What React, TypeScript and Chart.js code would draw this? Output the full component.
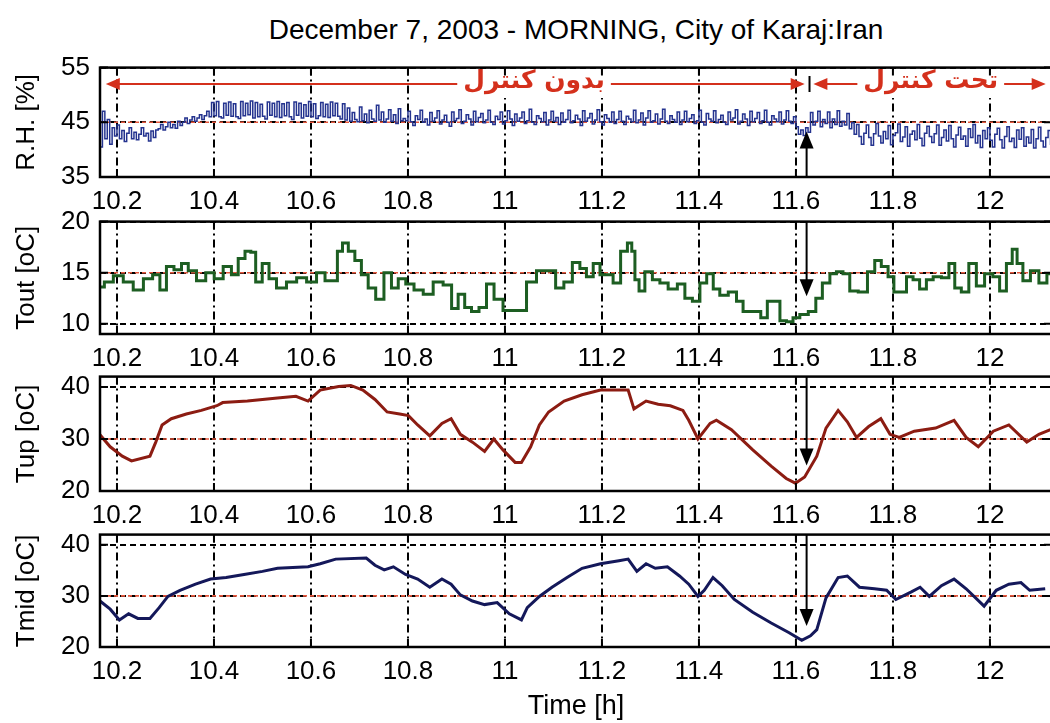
import React, { useEffect, useRef } from "react";
import { Chart, registerables } from "chart.js";

Chart.register(...registerables);

// ---------------- data ----------------
const TITLE = "December 7, 2003 - MORNING, City of Karaj:Iran";
const X_TITLE = "Time [h]";
const X_MIN = 10.165;
const X_MAX = 12.128;
const X_TICKS = [10.2, 10.4, 10.6, 10.8, 11, 11.2, 11.4, 11.6, 11.8, 12];
const X_TICK_LABELS = ["10.2", "10.4", "10.6", "10.8", "11", "11.2", "11.4", "11.6", "11.8", "12"];

// Relative humidity sampled every 0.005 h starting at 10.16 h
const RH_START = 10.16;
const RH_STEP = 0.005;
const RH_VALUES = [
  // 10.160 - 10.200
  41, 46.5, 40.5, 47, 42, 45.5, 41, 44, 42.5,
  // 10.205 - 10.285
  44.5, 42, 43.5, 41.5, 43, 44, 42, 43.2, 41.8, 42.8, 44, 42.5, 43, 41.6, 43.4, 42.2, 43.6,
  // 10.290 - 10.395
  43.8, 44.6, 43.6, 44.2, 45, 44, 44.6, 43.9, 45.2, 44.4, 45, 45.8, 44.8, 45.4, 46, 45.2, 45.8, 46.4, 45.5, 46.2, 47, 46,
  // 10.400 - 10.670
  48.6, 46.2, 48.8, 46, 45.8, 48.5, 46.3, 48.7, 46.1, 48.4, 46, 45.7, 48.8, 46.2, 48.5, 46.4, 48.9, 45.8, 48.6, 46,
  48.3, 46.1, 45.6, 48.7, 46.3, 48.5, 46, 48.8, 45.9, 48.4, 46.2, 48.6, 46, 45.5, 48.7, 46.3, 48.5, 45.8, 48.2, 46.1,
  48.8, 46, 48.4, 45.7, 46.2, 48.6, 46, 48.3, 45.9, 48.7, 46.2, 48.5, 46.1, 45.6, 48.4,
  // 10.675 - 10.795
  45.4, 47.6, 45.2, 46.8, 45.5, 45.1, 47.8, 45.3, 46.5, 44.9, 47.2, 45.6, 45.2, 48.1, 45.4, 46.9, 45, 45.6, 47.3, 45.2,
  46.4, 44.8, 47.5, 45.3, 45.7,
  // 10.800 - 11.600
  45.3, 47.0, 45.1, 44.4, 46.2, 45.5, 47.2, 45.0, 45.6, 44.5, 46.8, 45.2, 45.8, 47.1, 44.7, 45.4, 46.3, 45.0, 44.3, 46.9,
  45.3, 45.7, 47.3, 44.8, 45.2, 46.4, 45.6, 44.5, 47.0, 45.1, 45.9, 46.6, 44.9, 45.4, 47.2, 45.0, 44.6, 46.1, 45.5, 46.9,
  44.7, 45.3, 47.1, 45.6, 44.4, 46.5, 45.2, 45.8, 46.9, 44.8, 45.3, 47.4, 45.0, 44.6, 46.2, 45.7, 45.1, 46.8, 44.5, 45.4,
  47.0, 45.2, 45.9, 44.6, 46.7, 45.0, 45.5, 47.2, 44.9, 45.3, 46.3, 45.6, 44.4, 47.1, 45.2, 45.8, 46.6, 44.7, 45.4, 47.3,
  45.1, 44.5, 46.4, 45.7, 45.0, 46.9, 44.8, 45.5, 47.0, 45.2, 44.6, 46.1, 45.6, 45.1, 47.2, 44.9, 45.4, 46.7, 44.5, 45.8,
  47.1, 45.0, 45.3, 46.5, 44.7, 45.6, 47.4, 45.2, 44.8, 46.2, 45.5, 45.0, 46.9, 44.6, 45.4, 47.0, 45.1, 45.7, 46.4, 44.8,
  45.3, 47.2, 45.0, 44.5, 46.6, 45.6, 45.2, 47.1, 44.9, 45.5, 46.3, 45.0, 44.6, 46.9, 45.4, 45.8, 47.3, 44.7, 45.2, 46.5,
  45.6, 44.4, 47.0, 45.1, 45.7, 46.8, 44.8, 45.3, 47.2, 45.0, 44.5, 46.2, 45.6, 45.1, 46.9, 44.7, 45.4, 47.1, 45.2, 44.8,
  46.0,
  // 11.605 - 11.630
  44.2, 42.8, 43.6, 42.6, 44, 43.2,
  // 11.635 - 11.720
  46.8, 44.5, 45.2, 47, 44.2, 45.5, 44.8, 46.9, 44, 45.6, 44.6, 47.1, 44.3, 45.2, 44.5, 46.6, 43.8, 44.9,
  // 11.725 - 12.130
  42.8, 44.6, 42.4, 41.0, 43.0, 44.5, 42.2, 40.8, 42.9, 44.8, 42.5, 41.2, 43.3, 42.0, 44.4, 40.9, 42.6, 43.1, 44.7, 41.5,
  42.3, 44.2, 40.6, 42.8, 43.4, 41.8, 44.6, 42.1, 40.7, 43.0, 44.3, 42.4, 41.3, 42.9, 44.5, 40.8, 42.2, 43.6, 41.6, 44.4,
  42.0, 40.5, 42.7, 44.1, 41.9, 42.5, 40.6, 43.8, 42.2, 44.6, 41.2, 42.6, 40.4, 43.5, 42.0, 44.0, 41.7, 40.5, 42.8, 43.9,
  41.8, 40.3, 42.4, 44.2, 41.5, 42.1, 40.4, 43.6, 41.9, 44.0, 40.6, 42.3, 41.2, 43.7, 40.3, 42.0, 44.1, 41.6, 40.5, 42.2,
  43.5, 41.0,
];

const TOUT_TIMES = [
  10.166, 10.182, 10.203, 10.223, 10.244, 10.265, 10.282, 10.295, 10.309, 10.326,
  10.340, 10.354, 10.374, 10.392, 10.409, 10.429, 10.443, 10.457, 10.471, 10.481,
  10.491, 10.508, 10.519, 10.539, 10.560, 10.581, 10.601, 10.622, 10.636, 10.649,
  10.660, 10.670, 10.684, 10.697, 10.711, 10.725, 10.742, 10.759, 10.773, 10.787,
  10.804, 10.821, 10.842, 10.862, 10.883, 10.897, 10.910, 10.924, 10.938, 10.955,
  10.969, 10.986, 11.006, 11.034, 11.055, 11.075, 11.096, 11.113, 11.130,
  11.148, 11.161, 11.175, 11.189, 11.203, 11.216, 11.230, 11.247, 11.258, 11.265,
  11.271, 11.282, 11.295, 11.313, 11.326, 11.347, 11.364, 11.378, 11.395, 11.409,
  11.423, 11.436, 11.450, 11.471, 11.484, 11.498, 11.519, 11.536, 11.546, 11.560,
  11.574, 11.587, 11.601, 11.615, 11.636, 11.646, 11.663, 11.677, 11.690, 11.704,
  11.718, 11.739, 11.756, 11.769, 11.783, 11.797, 11.807, 11.821, 11.835, 11.848,
  11.862, 11.876, 11.890, 11.910, 11.921, 11.934, 11.948, 11.965, 11.979, 11.999,
  12.013, 12.027, 12.041, 12.051, 12.061, 12.075, 12.092, 12.110, 12.125,
];
const TOUT_VALUES = [
  13.6, 14.1, 14.7, 14.1, 13.3, 14.4, 14.8, 13.3, 15.6, 15.3,
  15.9, 15.2, 14.2, 15.0, 14.4, 15.6, 14.8, 16.4, 17.1, 17.0,
  14.1, 15.9, 14.4, 13.5, 14.1, 14.5, 14.1, 15.0, 14.2, 14.2,
  17.1, 17.9, 17.1, 16.2, 14.8, 13.5, 12.4, 15.0, 13.5, 14.4,
  13.9, 13.3, 12.9, 14.1, 13.8, 11.5, 12.9, 11.6, 11.2, 11.6,
  13.9, 12.4, 11.3, 11.3, 14.1, 15.2, 15.2, 13.5, 14.1,
  16.0, 15.4, 14.6, 15.9, 14.8, 14.8, 14.0, 17.1, 17.9, 17.1,
  14.3, 13.2, 15.1, 14.3, 14.0, 13.4, 13.9, 12.5, 12.2, 14.0,
  14.9, 13.4, 12.8, 13.1, 12.2, 11.2, 11.2, 10.6, 12.2, 12.2,
  10.3, 10.2, 10.6, 10.9, 11.2, 12.5, 14.0, 14.9, 15.1, 14.9,
  13.2, 13.1, 15.1, 16.2, 15.6, 14.6, 13.1, 13.1, 14.6, 14.3,
  13.4, 14.3, 14.6, 14.5, 15.9, 13.5, 13.1, 15.9, 13.7, 14.9,
  14.6, 13.2, 15.9, 17.3, 15.9, 14.2, 15.2, 14.0, 14.9,
];

const TUP_TIMES = [
  10.165, 10.186, 10.211, 10.230, 10.268, 10.280, 10.293, 10.312, 10.343, 10.374,
  10.406, 10.418, 10.469, 10.531, 10.569, 10.594, 10.619, 10.657, 10.682, 10.707,
  10.732, 10.757, 10.783, 10.801, 10.820, 10.845, 10.870, 10.889, 10.908, 10.933,
  10.958, 10.977, 10.996, 11.021, 11.034, 11.053, 11.071, 11.090, 11.122, 11.159,
  11.197, 11.254, 11.266, 11.291, 11.316, 11.341, 11.367, 11.379, 11.398, 11.423,
  11.436, 11.467, 11.511, 11.549, 11.580, 11.599, 11.618, 11.643, 11.662, 11.687,
  11.706, 11.725, 11.750, 11.775, 11.794, 11.813, 11.844, 11.888, 11.926, 11.951,
  11.976, 12.007, 12.039, 12.076, 12.101, 12.125,
];
const TUP_VALUES = [
  30.8, 28.5, 26.7, 25.8, 26.7, 29.4, 32.7, 33.9, 34.8, 35.5,
  36.4, 37.0, 37.3, 37.9, 38.2, 37.3, 39.4, 40.1, 40.3, 39.4,
  37.6, 35.2, 34.8, 34.5, 32.7, 30.6, 33.0, 33.9, 30.9, 29.4,
  27.6, 30.0, 27.9, 25.5, 25.5, 28.5, 32.7, 35.2, 37.3, 38.5,
  39.4, 39.4, 35.8, 37.3, 36.7, 36.4, 35.5, 33.6, 30.0, 33.0,
  33.6, 31.8, 27.9, 24.8, 22.4, 21.5, 22.7, 26.7, 32.1, 35.5,
  33.3, 30.3, 32.4, 33.9, 30.9, 30.3, 31.5, 32.1, 33.6, 30.3,
  28.5, 31.5, 32.7, 29.4, 30.9, 31.8,
];

const TMID_TIMES = [
  10.165, 10.186, 10.205, 10.224, 10.243, 10.268, 10.287, 10.305, 10.330, 10.362,
  10.393, 10.425, 10.462, 10.500, 10.531, 10.594, 10.619, 10.651, 10.714, 10.732,
  10.751, 10.770, 10.795, 10.820, 10.845, 10.870, 10.889, 10.908, 10.933, 10.958,
  10.984, 11.009, 11.034, 11.046, 11.071, 11.097, 11.128, 11.159, 11.197, 11.235,
  11.254, 11.272, 11.291, 11.310, 11.335, 11.360, 11.379, 11.398, 11.411, 11.429,
  11.448, 11.473, 11.511, 11.549, 11.586, 11.612, 11.630, 11.643, 11.662, 11.687,
  11.706, 11.731, 11.762, 11.787, 11.806, 11.838, 11.856, 11.875, 11.900, 11.926,
  11.951, 11.988, 12.013, 12.039, 12.064, 12.082, 12.114,
];
const TMID_VALUES = [
  29.0, 27.4, 25.3, 26.5, 25.6, 25.6, 27.7, 29.9, 31.1, 32.3,
  33.3, 33.6, 34.2, 34.8, 35.4, 35.7, 36.3, 37.2, 37.4, 36.0,
  35.1, 35.7, 34.2, 33.3, 31.7, 33.3, 32.3, 30.2, 29.0, 28.3,
  28.7, 26.5, 25.3, 27.7, 29.9, 31.7, 33.6, 35.4, 36.3, 36.9,
  37.2, 34.8, 36.3, 35.4, 35.7, 33.9, 32.3, 29.9, 31.1, 33.6,
  32.0, 29.3, 26.8, 24.7, 22.8, 21.3, 22.2, 23.4, 29.6, 33.6,
  33.9, 31.7, 31.4, 31.1, 29.3, 30.8, 31.7, 29.9, 32.0, 33.3,
  31.4, 28.0, 31.1, 32.3, 32.6, 31.1, 31.4,
];

// reference (red dashed) levels per panel
const REF_LEVELS = [45, 15, 30, 30];
// control-start arrows: time, base value, tip value
const ARROW_T = 11.622;
const ARROW_BASES = [35, 20, 42, 42];
const ARROW_TIPS = [43.3, 12.7, 24.9, 24.1];
// red annotation in the first panel
const RED_LEVEL = 52;
const SPAN_NO_CONTROL = [10.177, 11.618];
const SPAN_CONTROL = [11.636, 12.115];
const DIVIDER_T = 11.628;
const TEXT_NO_CONTROL = "بدون کنترل";
const TEXT_CONTROL = "تحت کنترل";
const TEXT_NO_CONTROL_T = 11.06;
const TEXT_CONTROL_T = 11.878;

// ---------------- style / layout ----------------
const FONT = "'Liberation Sans', Arial, Helvetica, sans-serif";
const TICK_FONT = { family: FONT, size: 26 };
const CANVAS_W = 1062;
const PAD_TOP = 20;
const PAD_RIGHT = 10;

type Pt = { x: number; y: number };
const zip = (xs: number[], ys: number[]): Pt[] => ys.map((y, i) => ({ x: xs[i], y }));
const rhTimes = RH_VALUES.map((_, i) => +(RH_START + i * RH_STEP).toFixed(4));

interface PanelSpec {
  top: number;
  height: number;
  xh: number;
  yMin: number;
  yMax: number;
  yTicks: number[];
  yTitle: string;
  points: Pt[];
  color: string;
  width: number;
  stepped: any;
  idx: number;
  xTitle: boolean;
}

const PANELS: PanelSpec[] = [
  { top: 42, height: 175, xh: 40, yMin: 35, yMax: 55, yTicks: [35, 45, 55], yTitle: "R.H. [%]",
    points: zip(rhTimes, RH_VALUES), color: "#24338f", width: 1.5, stepped: "after", idx: 0, xTitle: false },
  { top: 196, height: 178, xh: 40, yMin: 9, yMax: 20, yTicks: [10, 15, 20], yTitle: "Tout [oC]",
    points: zip(TOUT_TIMES, TOUT_VALUES), color: "#1d5e22", width: 3, stepped: "middle", idx: 1, xTitle: false },
  { top: 351, height: 180, xh: 40, yMin: 20, yMax: 42, yTicks: [20, 30, 40], yTitle: "Tup [oC]",
    points: zip(TUP_TIMES, TUP_VALUES), color: "#8c1c12", width: 3, stepped: false, idx: 2, xTitle: false },
  { top: 509, height: 214, xh: 76, yMin: 20, yMax: 42, yTicks: [20, 30, 40], yTitle: "Tmid [oC]",
    points: zip(TMID_TIMES, TMID_VALUES), color: "#14185a", width: 3, stepped: false, idx: 3, xTitle: true },
];

function drawHead(ctx: CanvasRenderingContext2D, x: number, y: number, dx: number, dy: number, len: number, half: number) {
  const bx = x - dx * len, by = y - dy * len;
  ctx.beginPath();
  ctx.moveTo(x, y);
  ctx.lineTo(bx - dy * half, by + dx * half);
  ctx.lineTo(bx + dy * half, by - dx * half);
  ctx.closePath();
  ctx.fill();
}

const marksPlugin = {
  id: "marks",
  afterDatasetsDraw(chart: any, _args: any, opts: any) {
    const { ctx, chartArea: a } = chart;
    const sx = chart.scales.x, sy = chart.scales.y;
    const i: number = opts.idx;
    ctx.save();
    ctx.setLineDash([]);

    // black control arrow
    const ax = sx.getPixelForValue(ARROW_T);
    const y0 = sy.getPixelForValue(ARROW_BASES[i]);
    const y1 = sy.getPixelForValue(ARROW_TIPS[i]);
    const dir = Math.sign(y1 - y0);
    ctx.strokeStyle = "#000";
    ctx.fillStyle = "#000";
    ctx.lineWidth = 2;
    ctx.beginPath();
    ctx.moveTo(ax, y0);
    ctx.lineTo(ax, y1 - dir * 14);
    ctx.stroke();
    drawHead(ctx, ax, y1, 0, dir, 17, 7);

    if (i === 0) {
      const ry = sy.getPixelForValue(RED_LEVEL);
      const red = "#d4301c";
      const spans = [SPAN_NO_CONTROL, SPAN_CONTROL];
      ctx.strokeStyle = red;
      ctx.fillStyle = red;
      ctx.lineWidth = 2;
      for (const s of spans) {
        const xa = sx.getPixelForValue(s[0]);
        const xb = sx.getPixelForValue(s[1]);
        ctx.beginPath();
        ctx.moveTo(xa + 10, ry);
        ctx.lineTo(xb - 10, ry);
        ctx.stroke();
        drawHead(ctx, xa, ry, -1, 0, 14, 6);
        drawHead(ctx, xb, ry, 1, 0, 14, 6);
      }
      const dx = sx.getPixelForValue(DIVIDER_T);
      ctx.strokeStyle = "#000";
      ctx.beginPath();
      ctx.moveTo(dx, ry - 8);
      ctx.lineTo(dx, ry + 8);
      ctx.stroke();
      ctx.font = "bold 25px 'DejaVu Sans', 'Noto Sans', sans-serif";
      ctx.textAlign = "center";
      ctx.textBaseline = "middle";
      const texts: [string, number][] = [[TEXT_NO_CONTROL, TEXT_NO_CONTROL_T], [TEXT_CONTROL, TEXT_CONTROL_T]];
      for (const [t, tv] of texts) {
        const tx = sx.getPixelForValue(tv);
        const w = ctx.measureText(t).width;
        ctx.fillStyle = "#fff";
        ctx.fillRect(tx - w / 2 - 6, ry - 14, w + 12, 28);
        ctx.fillStyle = red;
        ctx.fillText(t, tx, ry - 3);
      }
    }

    // frame and inward tick marks
    ctx.strokeStyle = "#000";
    ctx.lineWidth = 2.5;
    ctx.strokeRect(a.left, a.top, a.right - a.left, a.bottom - a.top);
    ctx.lineWidth = 2;
    const tl = 8;
    ctx.beginPath();
    for (const t of sx.ticks) {
      const px = sx.getPixelForValue(t.value);
      ctx.moveTo(px, a.bottom);
      ctx.lineTo(px, a.bottom - tl);
      ctx.moveTo(px, a.top);
      ctx.lineTo(px, a.top + tl);
    }
    for (const t of sy.ticks) {
      const py = sy.getPixelForValue(t.value);
      ctx.moveTo(a.left, py);
      ctx.lineTo(a.left + tl, py);
      ctx.moveTo(a.right, py);
      ctx.lineTo(a.right - tl, py);
    }
    ctx.stroke();
    ctx.restore();
  },
};

function buildConfig(p: PanelSpec): any {
  return {
    type: "line",
    data: {
      datasets: [
        {
          data: p.points,
          borderColor: p.color,
          backgroundColor: p.color,
          borderWidth: p.width,
          pointRadius: 0,
          stepped: p.stepped,
          tension: 0,
          order: 0,
        },
        {
          data: [
            { x: X_MIN, y: REF_LEVELS[p.idx] },
            { x: X_MAX, y: REF_LEVELS[p.idx] },
          ],
          borderColor: "#e4573d",
          borderWidth: 1.6,
          borderDash: [4, 3],
          pointRadius: 0,
          order: 1,
        },
      ],
    },
    options: {
      responsive: false,
      animation: false,
      events: [],
      layout: { padding: { top: PAD_TOP, right: PAD_RIGHT, left: 0, bottom: 0 } },
      plugins: {
        legend: { display: false },
        tooltip: { enabled: false },
        marks: { idx: p.idx },
      },
      scales: {
        x: {
          type: "linear",
          min: X_MIN,
          max: X_MAX,
          afterBuildTicks: (s: any) => {
            s.ticks = X_TICKS.map((v) => ({ value: v }));
          },
          afterFit: (s: any) => {
            s.height = p.xh;
          },
          ticks: {
            autoSkip: false,
            maxRotation: 0,
            padding: 9,
            color: "#000",
            font: TICK_FONT,
            callback: (_v: any, i: number) => X_TICK_LABELS[i],
          },
          grid: { color: "#000", lineWidth: 2, drawTicks: false },
          border: { display: false, dash: [8, 4, 2, 4] },
          title: {
            display: p.xTitle,
            text: X_TITLE,
            color: "#000",
            font: { family: FONT, size: 27 },
            padding: { top: 0, bottom: 0 },
          },
        },
        y: {
          type: "linear",
          min: p.yMin,
          max: p.yMax,
          afterBuildTicks: (s: any) => {
            s.ticks = p.yTicks.map((v) => ({ value: v }));
          },
          afterFit: (s: any) => {
            s.width = 100;
          },
          ticks: {
            padding: 10,
            color: "#000",
            font: TICK_FONT,
            callback: (v: any) => String(v),
          },
          grid: { color: "#000", lineWidth: 2, drawTicks: false },
          border: { display: false, dash: [6, 4] },
          title: {
            display: true,
            text: p.yTitle,
            color: "#000",
            font: { family: FONT, size: 26 },
            padding: { top: 11, bottom: 0 },
          },
        },
      },
    },
    plugins: [marksPlugin],
  };
}

function Panel({ spec }: { spec: PanelSpec }) {
  const ref = useRef<HTMLCanvasElement>(null);
  useEffect(() => {
    const chart = new Chart(ref.current as HTMLCanvasElement, buildConfig(spec));
    return () => chart.destroy();
  }, [spec]);
  return (
    <canvas
      ref={ref}
      width={CANVAS_W}
      height={spec.height}
      style={{ position: "absolute", left: 0, top: spec.top, width: CANVAS_W, height: spec.height }}
    />
  );
}

export default function App() {
  return (
    <div
      style={{
        position: "absolute",
        left: 0,
        top: 0,
        width: 1050,
        height: 723,
        overflow: "hidden",
        background: "#fff",
      }}
    >
      <div
        style={{
          position: "absolute",
          left: 0,
          top: 10,
          width: 1152,
          textAlign: "center",
          fontFamily: FONT,
          fontSize: 28,
          lineHeight: "40px",
          color: "#000",
          whiteSpace: "nowrap",
        }}
      >
        {TITLE}
      </div>
      {PANELS.map((p) => (
        <Panel key={p.idx} spec={p} />
      ))}
    </div>
  );
}
